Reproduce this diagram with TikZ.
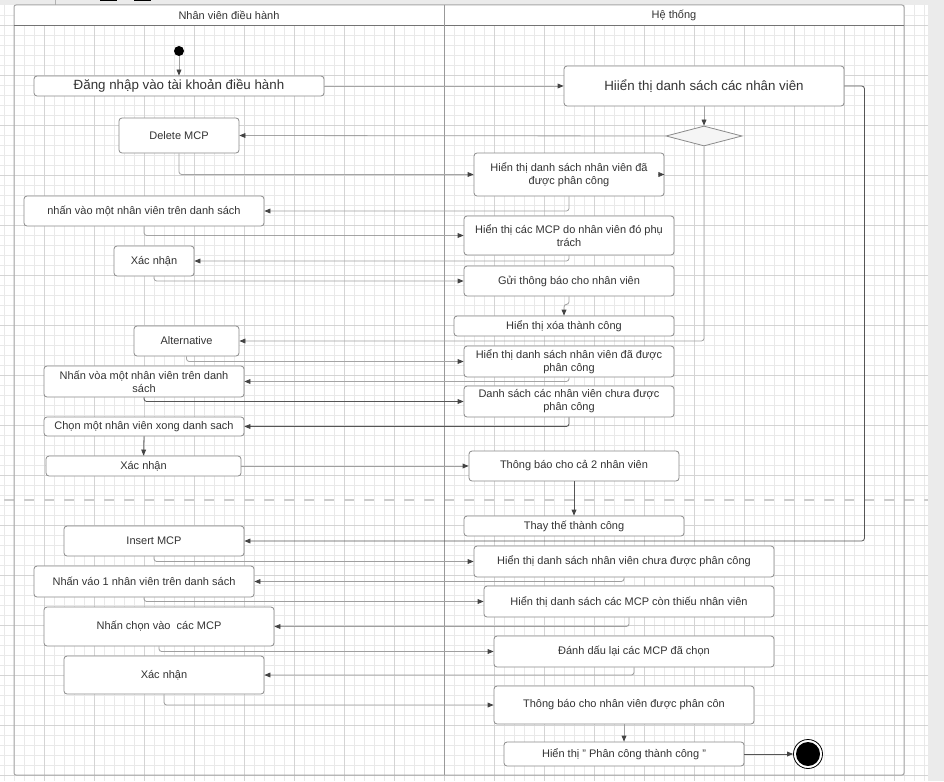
\documentclass[tikz,border=0pt]{standalone}
\usepackage{fontspec}
\setmainfont{Liberation Sans}
\usetikzlibrary{arrows.meta,shapes.geometric}
\definecolor{txt}{HTML}{333333}
\definecolor{bord}{HTML}{8A8A8A}
\definecolor{gridmin}{HTML}{E9E9E9}
\definecolor{gridmaj}{HTML}{D4D4D4}
\definecolor{lnA}{HTML}{A4A4A4}
\definecolor{lnB}{HTML}{555555}
\definecolor{tipc}{HTML}{444444}
\definecolor{chrome}{HTML}{EBEBEB}
\tikzset{
  abox/.style={draw=bord, fill=white, rounded corners=2.25pt, line width=0.6pt, inner sep=0pt, align=center, text=txt, font=\fontsize{8.25pt}{9.75pt}\selectfont},
  bigbox/.style={abox, font=\fontsize{10pt}{12pt}\selectfont},
  lanelbl/.style={inner sep=0pt, text=txt, font=\fontsize{8.25pt}{9.75pt}\selectfont},
  conn/.style={draw=lnA, line width=0.6pt, rounded corners=2pt, -{Triangle[length=4.5pt,width=3.6pt,color=tipc]}},
  connd/.style={conn, draw=lnB},
  connm/.style={conn, draw=gray!75},
}
\newcommand{\mybox}[7][abox]{\node[#1, minimum width={(#4-#3)*0.75pt}, minimum height={(#6-#5)*0.75pt}] (#2) at ({(#3+#4)/2},{(#5+#6)/2}) {#7};}
\begin{document}
\begin{tikzpicture}[x=0.75pt,y=-0.75pt]
\useasboundingbox (0,0) rectangle (944,781);
\fill[white] (0,0) rectangle (944,781);
% grid
\foreach \x in {4,14,...,924} \draw[gridmin, line width=0.4pt] (\x,5) -- (\x,781);
\foreach \y in {15,25,...,775} \draw[gridmin, line width=0.4pt] (0,\y) -- (928,\y);
\foreach \x in {44,94,...,894} \draw[gridmaj, line width=0.5pt] (\x,5) -- (\x,781);
\foreach \y in {25,75,...,775} \draw[gridmaj, line width=0.5pt] (0,\y) -- (928,\y);
% chrome
\fill[chrome] (0,0) rectangle (944,5);
\fill[chrome] (928,0) rectangle (944,781);
\fill[black] (100,0) rectangle (117,1.5);
\fill[black] (134,0) rectangle (151,1.5);
\draw[gray!60, line width=0.4pt] (55,0) -- (55,5);
% separator
\draw[gray!40, line width=1.6pt, dash pattern=on 7.5pt off 7.5pt] (4,500) -- (928,500);
% pool
\fill[white] (14,5) rectangle (904,26);
\draw[gray!70, line width=0.75pt, rounded corners=1.5pt] (14,5) rectangle (904,775);
\draw[gray!90!black, line width=0.75pt] (14,26) -- (904,26);
\draw[gray!80, line width=0.75pt] (444,5) -- (444,775);
\node[lanelbl] (lane1) at (229,15) {Nhân viên điều hành};
\node[lanelbl] (lane2) at (674,15) {Hệ thống};
% left lane
\node[circle, fill=black, minimum size={10*0.75pt}, inner sep=0pt] (start) at (179,51) {};
\mybox[bigbox]{login}{34}{324}{76}{96}{Đăng nhập vào tài khoản điều hành}
\mybox{del}{119}{239}{118}{153}{Delete MCP}
\mybox{click1}{24}{264}{196}{226}{nhấn vào một nhân viên trên danh sách}
\mybox{xn1}{114}{194}{246}{276}{Xác nhận}
\mybox{alt}{134}{239}{326}{356}{Alternative}
\mybox{click2}{44}{244}{366}{397}{Nhấn vòa một nhân viên trên danh\\sách}
\mybox{chon}{44}{244}{417}{436}{Chọn một nhân viên xong danh sach}
\mybox{xn2}{46}{241}{456}{476}{Xác nhận}
\mybox{ins}{64}{244}{526}{556}{Insert MCP}
\mybox{click3}{34}{254}{566}{597}{Nhấn váo 1 nhân viên trên danh sách}
\mybox{chonmcp}{44}{274}{607}{646}{Nhấn chọn vào\ \ các MCP}
\mybox{xn3}{64}{264}{656}{694}{Xác nhận}
% right lane
\mybox[bigbox]{list}{564}{844}{66}{106}{Hiiển thị danh sách các nhân viên}
\node[diamond, draw=bord, fill=gray!8, line width=0.6pt, minimum width={76*0.75pt}, minimum height={20*0.75pt}, inner sep=0pt, aspect=3.8] (dec) at (704,136) {};
\mybox{s1}{474}{664}{153}{196}{Hiển thị danh sách nhân viên đã\\được phân công}
\mybox{s2}{464}{674}{216}{255}{Hiển thị các MCP do nhân viên đó phụ\\trách}
\mybox{s3}{464}{674}{266}{296}{Gửi thông báo cho nhân viên}
\mybox{s4}{454}{674}{316}{336}{Hiển thị xóa thành công}
\mybox{s5}{464}{674}{346}{377}{Hiển thị danh sách nhân viên đã được\\phân công}
\mybox{s6}{464}{674}{386}{417}{Danh sách các nhân viên chưa được\\phân công}
\mybox{s7}{469}{679}{451}{481}{Thông báo cho cả 2 nhân viên}
\mybox{s8}{464}{684}{516}{536}{Thay thế thành công}
\mybox{s9}{474}{774}{546}{577}{Hiển thị danh sách nhân viên chưa được phân công}
\mybox{s10}{484}{774}{586}{617}{Hiển thị danh sách các MCP còn thiếu nhân viên}
\mybox{s11}{494}{774}{636}{667}{Đánh dấu lại các MCP đã chọn}
\mybox{s12}{494}{754}{686}{724}{Thông báo cho nhân viên được phân côn}
\mybox{s13}{504}{744}{742}{766}{Hiển thị \char34\ Phân công thành công \char34}
\node[circle, draw=black, line width=0.6pt, fill=white, minimum size={29*0.75pt}, inner sep=0pt] (endo) at (808,754) {};
\node[circle, fill=black, minimum size={24*0.75pt}, inner sep=0pt] (endi) at (808,754) {};
% connectors
\draw[conn] (start.south) -- (login.north);
\draw[conn] (login.east) -- (list.west);
\draw[conn] (list.south) -- (dec.north);
\draw[conn] (dec.west) -- (del.east);
\draw[conn] (del.south) |- (s1.west);
\draw[conn] ([xshift=-4.5pt]s1.east) -- (s1.east);
\draw[conn] (s1.south) |- (click1.east);
\draw[conn] (click1.south) |- (s2.west);
\draw[conn] (s2.south) |- (xn1.east);
\draw[conn] (xn1.south) |- (s3.west);
\draw[conn] (s3.south) -- ++(0,8) -| (s4.north);
\draw[conn] (dec.south) |- (alt.east);
\draw[conn] (alt.south) |- (s5.west);
\draw[conn] (s5.south) |- (click2.east);
\draw[connd] (click2.south) |- (s6.west);
\draw[connd] (s6.south) |- (chon.east);
\draw[connd] (chon.south) -- (xn2.north);
\draw[connm] (xn2.east) -- (s7.west);
\draw[connd] (s7.south) -- (s8.north);
\draw[connd] (list.east) -- ++(20,0) |- (ins.east);
\draw[connm] (ins.south) |- (s9.west);
\draw[connm] (s9.south) |- (click3.east);
\draw[connm] (click3.south) |- (s10.west);
\draw[connm] (s10.south) |- (chonmcp.east);
\draw[connm] (chonmcp.south) |- (s11.west);
\draw[connm] (s11.south) |- (xn3.east);
\draw[connm] (xn3.south) |- (s12.west);
\draw[connm] (s12.south) -- (s13.north);
\draw[connd] (s13.east) -- (endo.west);
\end{tikzpicture}
\end{document}
